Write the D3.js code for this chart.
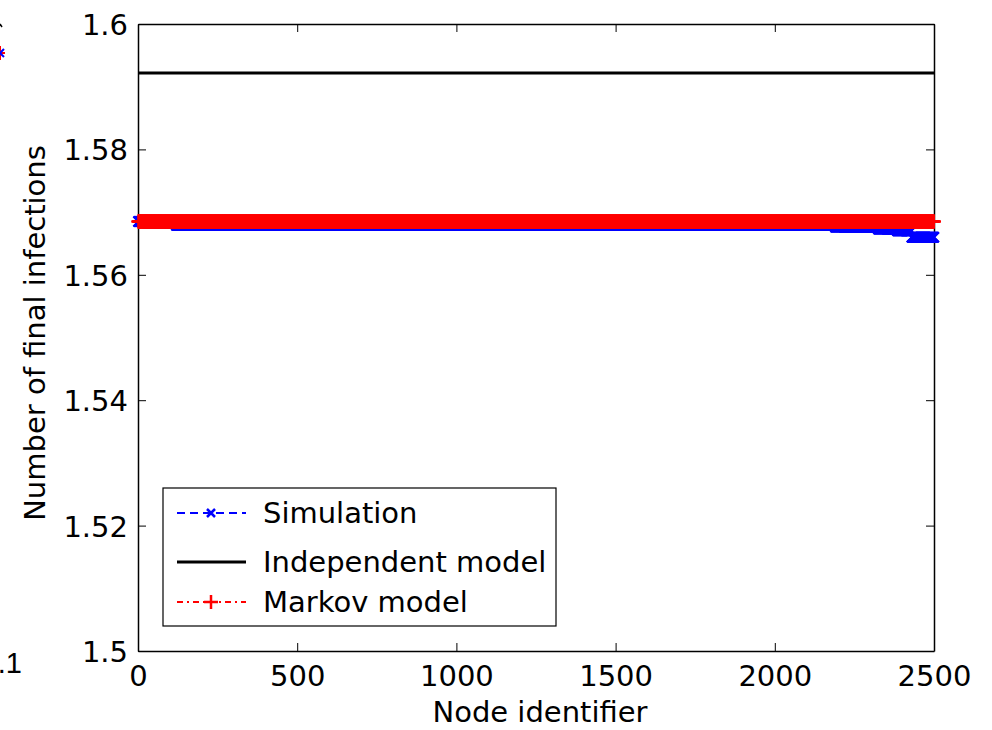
<!DOCTYPE html>
<html>
  <head>
    <meta charset="utf-8" />
    <title>Final infections per node</title>
    <script src="https://d3js.org/d3.v7.min.js"></script>
    <style>
      body {
        margin: 0;
        background: #fff;
      }
      text {
        font-family: "DejaVu Sans", Arial, sans-serif;
      }
    </style>
  </head>
  <body>

    <svg id="chart"></svg>

    <script>

      // data
      var nodeCount = 2500;
      var xTicks = [0, 500, 1000, 1500, 2000, 2500];
      var yTicks = [1.5, 1.52, 1.54, 1.56, 1.58, 1.6];
      var yTickLabels = ["1.5", "1.52", "1.54", "1.56", "1.58", "1.6"];

      // simulation: node where a level starts, and its value
      var simStart = [1, 30, 120, 2190, 2325, 2385, 2430];
      var simValue = [1.5685, 1.5682, 1.5679, 1.5676, 1.5673, 1.5670, 1.5660];

      var independentValue = 1.59219;
      var markovValue = 1.5685;

      var seriesNames = ["Simulation", "Independent model", "Markov model"];

      var width = 992;
      var height = 730;
      var margin = {top: 24, right: 58, bottom: 79, left: 138};
      var fontSize = "29px";
      var fontFamily = "'DejaVu Sans', Arial, sans-serif";

      var svg = d3.select("#chart")
        .attr("width", width)
        .attr("height", height);

      var x = d3.scaleLinear()
        .domain([0, 2500])
        .range([margin.left, width - margin.right]);

      var y = d3.scaleLinear()
        .domain([1.5, 1.6])
        .range([height - margin.bottom, margin.top]);

      function simAt(n) {
        var v = simValue[0];
        for (var k = 0; k < simStart.length; k++) {
          if (n >= simStart[k]) v = simValue[k];
        }
        return v;
      }

      var nodes = d3.range(1, nodeCount + 1);
      var simData = nodes.map(function(n) { return {n: n, v: simAt(n)}; });
      var markovData = nodes.map(function(n) { return {n: n, v: markovValue}; });

      var x0 = margin.left, x1 = width - margin.right;
      var y0 = margin.top, y1 = height - margin.bottom;

      // axes (MATLAB style box, ticks pointing inward)
      var axisB = svg.append("g")
        .attr("transform", "translate(0," + y1 + ")")
        .call(d3.axisBottom(x).tickValues(xTicks).tickSizeInner(-8).tickSizeOuter(0).tickPadding(14)
          .tickFormat(d3.format("d")));
      var axisT = svg.append("g")
        .attr("transform", "translate(0," + y0 + ")")
        .call(d3.axisTop(x).tickValues(xTicks).tickSizeInner(-8).tickSizeOuter(0).tickFormat(""));
      var axisL = svg.append("g")
        .attr("transform", "translate(" + x0 + ",0)")
        .call(d3.axisLeft(y).tickValues(yTicks).tickSizeInner(-8).tickSizeOuter(0).tickPadding(10)
          .tickFormat(function(d, i) { return yTickLabels[i]; }));
      var axisR = svg.append("g")
        .attr("transform", "translate(" + x1 + ",0)")
        .call(d3.axisRight(y).tickValues(yTicks).tickSizeInner(-8).tickSizeOuter(0).tickFormat(""));

      [axisB, axisT, axisL, axisR].forEach(function(g) {
        g.select(".domain").attr("stroke", "#000").attr("stroke-width", 1.5);
        g.selectAll(".tick line").attr("stroke", "#000").attr("stroke-width", 1);
        g.selectAll(".tick text")
          .attr("fill", "#000")
          .style("font-size", fontSize)
          .style("font-family", fontFamily);
      });
      axisL.selectAll(".tick text").attr("dy", "0.36em");

      // simulation: blue dashed with x markers
      var line = d3.line()
        .x(function(d) { return x(d.n); })
        .y(function(d) { return y(d.v); });

      svg.append("path")
        .datum(simData)
        .attr("d", line)
        .attr("fill", "none")
        .attr("stroke", "#0000ff")
        .attr("stroke-width", 2)
        .attr("stroke-dasharray", "8,5");

      var xm = 5;
      svg.append("g").selectAll("path")
        .data(simData)
        .enter().append("path")
        .attr("d", function(d) {
          var cx = x(d.n), cy = y(d.v);
          return "M" + (cx - xm) + "," + (cy - xm) + "L" + (cx + xm) + "," + (cy + xm) +
                 "M" + (cx - xm) + "," + (cy + xm) + "L" + (cx + xm) + "," + (cy - xm);
        })
        .attr("stroke", "#0000ff")
        .attr("stroke-width", 2)
        .attr("fill", "none");

      // independent model
      svg.append("line")
        .attr("x1", x(0)).attr("x2", x(2500))
        .attr("y1", y(independentValue)).attr("y2", y(independentValue))
        .attr("stroke", "#000")
        .attr("stroke-width", 3);

      // markov model: red dash-dot with + markers
      svg.append("path")
        .datum(markovData)
        .attr("d", line)
        .attr("fill", "none")
        .attr("stroke", "#ff0000")
        .attr("stroke-width", 2)
        .attr("stroke-dasharray", "8,4,2,4");

      var pm = 7;
      svg.append("g").selectAll("path")
        .data(markovData)
        .enter().append("path")
        .attr("d", function(d) {
          var cx = x(d.n), cy = y(d.v);
          return "M" + (cx - pm) + "," + cy + "L" + (cx + pm) + "," + cy +
                 "M" + cx + "," + (cy - pm) + "L" + cx + "," + (cy + pm);
        })
        .attr("stroke", "#ff0000")
        .attr("stroke-width", 2)
        .attr("fill", "none");

      // axis titles
      svg.append("text")
        .attr("x", 540)
        .attr("y", 722)
        .attr("text-anchor", "middle")
        .style("font-size", fontSize)
        .text("Node identifier");

      svg.append("text")
        .attr("transform", "translate(45,333) rotate(-90)")
        .attr("text-anchor", "middle")
        .style("font-size", fontSize)
        .text("Number of final infections");

      // legend
      var legend = svg.append("g").attr("transform", "translate(163,488)");
      legend.append("rect")
        .attr("width", 393).attr("height", 138)
        .attr("fill", "#fff").attr("stroke", "#000").attr("stroke-width", 1.2);

      var rowY = [25, 74, 114];
      var rows = legend.selectAll(".row")
        .data(seriesNames)
        .enter().append("g")
        .attr("class", "row")
        .attr("transform", function(d, i) { return "translate(0," + rowY[i] + ")"; });

      rows.append("line")
        .attr("x1", 14).attr("x2", 83)
        .attr("stroke", function(d, i) { return ["#0000ff", "#000", "#ff0000"][i]; })
        .attr("stroke-width", function(d, i) { return i === 1 ? 3 : 2; })
        .attr("stroke-dasharray", function(d, i) { return ["8,5", null, "6,4,2,4"][i]; });

      rows.filter(function(d, i) { return i === 0; }).append("path")
        .attr("d", "M44,-4L52,4M44,4L52,-4")
        .attr("stroke", "#0000ff").attr("stroke-width", 2.5);
      rows.filter(function(d, i) { return i === 2; }).append("path")
        .attr("d", "M41,0L55,0M48,-7L48,7")
        .attr("stroke", "#ff0000").attr("stroke-width", 2.5);

      rows.append("text")
        .attr("x", 100)
        .attr("dy", "0.36em")
        .style("font-size", fontSize)
        .text(function(d) { return d; });

      // pieces of the neighbouring panel that show at the left edge
      svg.append("text")
        .attr("x", -18.5).attr("y", 673)
        .attr("text-anchor", "start")
        .style("font-size", fontSize)
        .style("font-family", "'Liberation Sans', Arial, sans-serif")
        .text("1.1");
      svg.append("path")
        .attr("d", "M-5,53L5,53M0,46L0,60")
        .attr("stroke", "#ff0000").attr("stroke-width", 2);
      svg.append("path")
        .attr("d", "M-4,49L4,57M-4,57L4,49")
        .attr("stroke", "#0000ff").attr("stroke-width", 2);
      svg.append("line")
        .attr("x1", 0).attr("x2", 2).attr("y1", 24).attr("y2", 27)
        .attr("stroke", "#000").attr("stroke-width", 1.5);

    </script>
  </body>
</html>
